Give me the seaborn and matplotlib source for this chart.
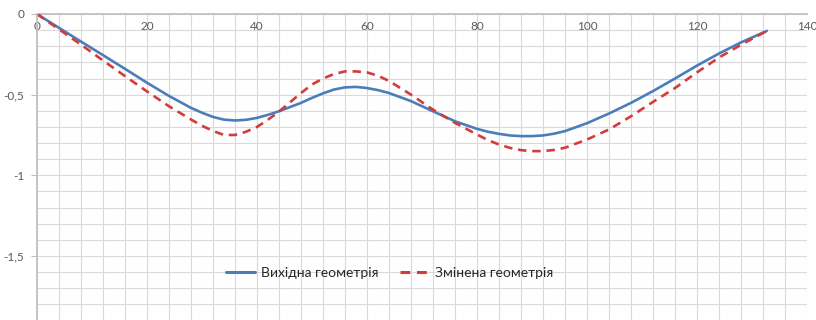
import matplotlib
matplotlib.use("Agg")
import matplotlib.pyplot as plt
from matplotlib.ticker import MultipleLocator, FuncFormatter
import seaborn as sns
import pandas as pd

# Deflection along the span for the two geometries
x_pos = [0, 4, 8, 12, 16, 20, 24, 28, 30, 32, 34, 36, 38, 40, 42, 44, 48,
         50, 52, 54, 56, 58, 60, 62, 64, 68, 72, 76, 80, 82, 84, 86, 88, 90,
         92, 94, 96, 100, 104, 108, 112, 116, 120, 124, 128, 132.7]
original = [0, -0.086, -0.171, -0.255, -0.340, -0.426, -0.508, -0.582,
            -0.612, -0.638, -0.655, -0.660, -0.656, -0.644, -0.625, -0.603,
            -0.551, -0.520, -0.492, -0.468, -0.455, -0.452, -0.459, -0.472,
            -0.490, -0.540, -0.603, -0.665, -0.712, -0.730, -0.743, -0.753,
            -0.757, -0.757, -0.753, -0.742, -0.726, -0.677, -0.617, -0.551,
            -0.478, -0.400, -0.320, -0.245, -0.176, -0.105]
modified = [0, -0.095, -0.190, -0.288, -0.385, -0.480, -0.572, -0.654,
            -0.693, -0.725, -0.750, -0.750, -0.730, -0.700, -0.655, -0.605,
            -0.490, -0.437, -0.400, -0.372, -0.356, -0.356, -0.362, -0.383,
            -0.415, -0.500, -0.593, -0.675, -0.747, -0.782, -0.809, -0.830,
            -0.844, -0.850, -0.850, -0.843, -0.829, -0.778, -0.716, -0.634,
            -0.545, -0.459, -0.362, -0.270, -0.191, -0.105]
series_names = ["Вихідна геометрія", "Змінена геометрія"]

df = pd.concat([
    pd.DataFrame({"x": x_pos, "y": original, "series": series_names[0]}),
    pd.DataFrame({"x": x_pos, "y": modified, "series": series_names[1]}),
])

sns.set_theme(style="white")
plt.rcParams["font.family"] = ["Lato", "DejaVu Sans"]

fig = plt.figure(figsize=(8.16, 3.2), dpi=100)
ax = fig.add_axes([37 / 816, 0, 770 / 816, 1 - 14 / 320])

palette = {series_names[0]: "#4a7ebb", series_names[1]: "#d43b3b"}
dashes = {series_names[0]: "", series_names[1]: (3.2, 2.2)}
sns.lineplot(data=df, x="x", y="y", hue="series", style="series",
             palette=palette, dashes=dashes, linewidth=1.9, sort=False,
             ax=ax, legend=True)

ax.set_xlim(0, 140)
ax.set_ylim(-1.897, 0)

ax.xaxis.set_major_locator(MultipleLocator(20))
ax.xaxis.set_minor_locator(MultipleLocator(4))
ax.yaxis.set_major_locator(MultipleLocator(0.5))
ax.yaxis.set_minor_locator(MultipleLocator(0.1))

grid_color = "#d9d9d9"
ax.grid(True, which="both", color=grid_color, linewidth=0.8)
ax.set_axisbelow(True)

# x axis sits on the zero line, labels hang below it
ax.spines["bottom"].set_position(("data", 0))
ax.spines["bottom"].set_color("#bfbfbf")
ax.spines["left"].set_color("#bfbfbf")
ax.spines["top"].set_visible(False)
ax.spines["right"].set_visible(False)
ax.spines["bottom"].set_zorder(1)

fmt = FuncFormatter(lambda v, _: f"{v:g}".replace(".", ","))
ax.yaxis.set_major_formatter(fmt)
ax.xaxis.set_major_formatter(FuncFormatter(lambda v, _: f"{v:g}"))

ax.tick_params(axis="x", which="both", length=0, pad=5, labelsize=8.5,
               labelcolor="#595959", bottom=True)
ax.tick_params(axis="y", which="major", length=4, width=0.8,
               color="#bfbfbf", pad=5, labelsize=8.5, labelcolor="#595959",
               left=True)
ax.tick_params(axis="y", which="minor", length=0)
ax.set_xlabel("")
ax.set_ylabel("")

leg = ax.legend(loc="center", bbox_to_anchor=(0.458, 0.154), ncol=2,
                frameon=False, fontsize=10, handlelength=2.1,
                columnspacing=1.6, handletextpad=0.4)
for text in leg.get_texts():
    text.set_color("#262626")
for line in leg.get_lines():
    line.set_linewidth(2.2)

fig.savefig("out.png", dpi=100)
